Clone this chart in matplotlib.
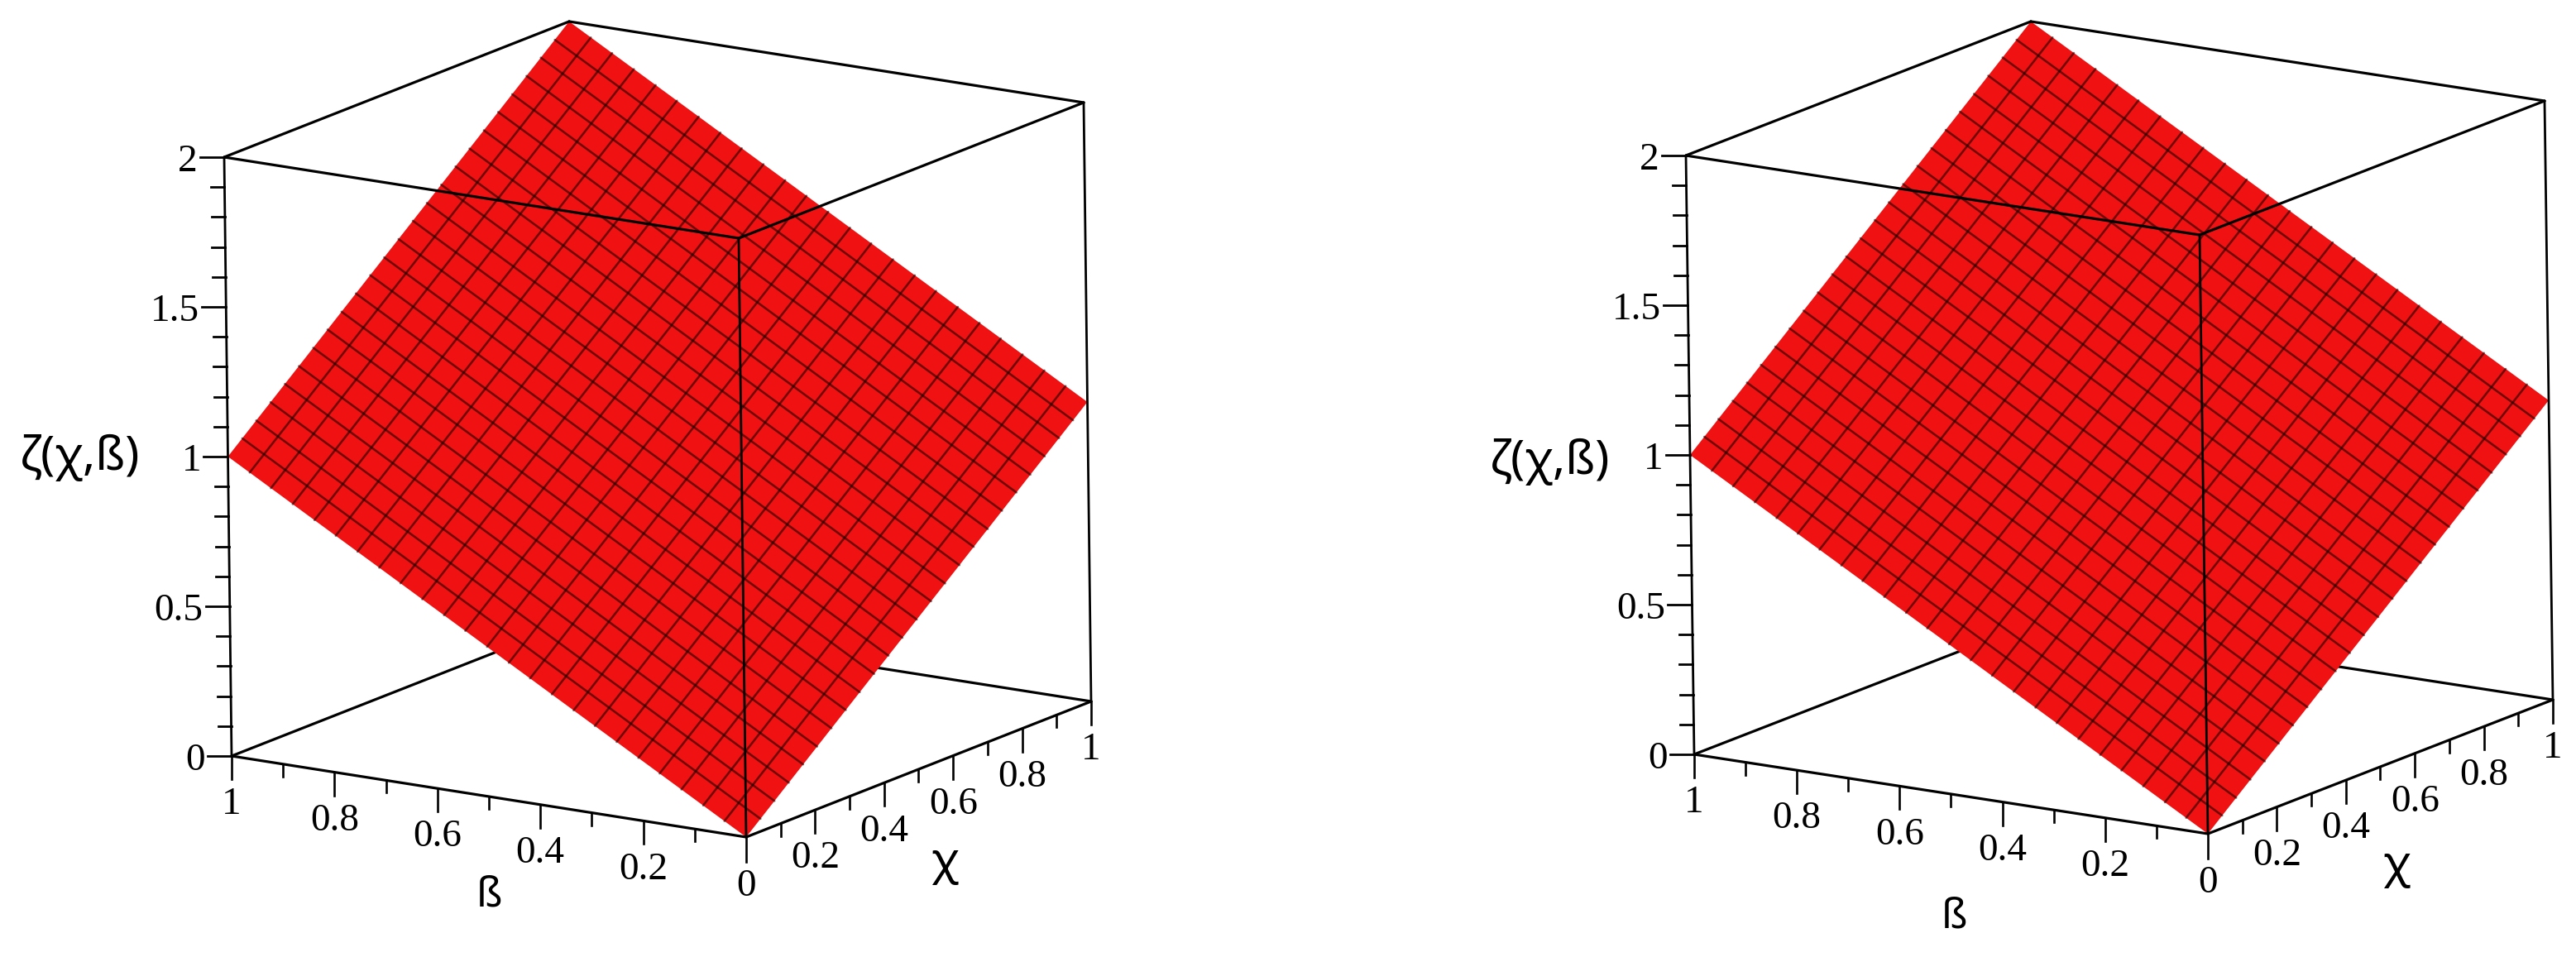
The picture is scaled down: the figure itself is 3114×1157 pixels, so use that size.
import matplotlib
matplotlib.use("Agg")
import matplotlib.pyplot as plt
from matplotlib.patches import Polygon
import numpy as np

# ---- data ----
grid_pos = [0.000, 0.042, 0.083, 0.125, 0.167, 0.208, 0.250, 0.292, 0.333, 0.375, 0.417, 0.458,
            0.500, 0.542, 0.583, 0.625, 0.667, 0.708, 0.750, 0.792, 0.833, 0.875, 0.917, 0.958, 1.000]
zeta_near = grid_pos                                  # zeta along the edge where the other variable is 0
zeta_far = [1.000, 1.042, 1.083, 1.125, 1.167, 1.208, 1.250, 1.292, 1.333, 1.375, 1.417, 1.458,
            1.500, 1.542, 1.583, 1.625, 1.667, 1.708, 1.750, 1.792, 1.833, 1.875, 1.917, 1.958, 2.000]
corner_chi = [0, 1, 1, 0]
corner_beta = [0, 0, 1, 1]
corner_zeta = [0, 1, 2, 1]

chi_ticks_major = [0.2, 0.4, 0.6, 0.8, 1.0]
chi_labels = ["0.2", "0.4", "0.6", "0.8", "1"]
beta_ticks_major = [0.2, 0.4, 0.6, 0.8, 1.0]
beta_labels = ["0.2", "0.4", "0.6", "0.8", "1"]
minor_ticks = [0.1, 0.3, 0.5, 0.7, 0.9]
zeta_ticks_major = [0, 0.5, 1, 1.5, 2]
zeta_labels = ["0", "0.5", "1", "1.5", "2"]
zeta_ticks_minor = [0.1, 0.2, 0.3, 0.4, 0.6, 0.7, 0.8, 0.9, 1.1, 1.2, 1.3, 1.4, 1.6, 1.7, 1.8, 1.9]

W, H = 3114, 1157
RED = "#f01212"
NUM_FONT = "Liberation Serif"
LAB_FONT = "Noto Sans"

# view of each panel: affine camera, in reference pixels
panels = [
    dict(o=(902, 1012), ex=(417, -164), eb=(-622, -98), ez=(-4.5, -362),
         zlab=(97, 553), blab=(592, 1082), xlab=(1142, 1043)),
    dict(o=(2669, 1008), ex=(417, -162), eb=(-621, -96), ez=(-5, -362),
         zlab=(1874, 558), blab=(2363, 1108), xlab=(2897, 1047)),
]

fig = plt.figure(figsize=(W / 100, H / 100), dpi=100, facecolor="white")
ax = fig.add_axes([0, 0, 1, 1])
ax.set_xlim(0, W)
ax.set_ylim(H, 0)
ax.axis("off")


def draw_panel(p):
    o, ex, eb, ez = (np.array(p[k], float) for k in ("o", "ex", "eb", "ez"))

    def P(chi, beta, zeta):
        return o + chi * ex + beta * eb + zeta * ez

    def seg(a, b, lw, z, color="black"):
        A, B = P(*a), P(*b)
        ax.plot([A[0], B[0]], [A[1], B[1]], color=color, lw=lw, zorder=z,
                solid_capstyle="round")

    # surface
    pts = [P(c, b, v) for c, b, v in zip(corner_chi, corner_beta, corner_zeta)]
    ax.add_patch(Polygon(pts, closed=True, facecolor=RED, edgecolor="none", zorder=2))
    grid_colour = (0.0, 0.0, 0.0, 0.52)
    for g, zn, zf in zip(grid_pos[1:-1], zeta_near[1:-1], zeta_far[1:-1]):
        seg((g, 0, zn), (g, 1, zf), 1.9, 2.5, grid_colour)
        seg((0, g, zn), (1, g, zf), 1.9, 2.5, grid_colour)

    # box
    thick, thin = 2.3, 2.0
    seg((0, 1, 0), (1, 1, 0), thick, 1)
    seg((1, 0, 0), (1, 1, 0), thick, 1)
    seg((1, 1, 0), (1, 1, 2), thin, 1)
    seg((0, 0, 0), (0, 1, 0), thick, 3)
    seg((0, 0, 0), (1, 0, 0), thick, 3)
    seg((0, 0, 2), (0, 1, 2), thick, 3)
    seg((0, 0, 2), (1, 0, 2), thick, 3)
    seg((0, 1, 2), (1, 1, 2), thick, 3)
    seg((1, 0, 2), (1, 1, 2), thick, 3)
    seg((0, 0, 0), (0, 0, 2), thin, 3)
    seg((0, 1, 0), (0, 1, 2), thin, 3)
    seg((1, 0, 0), (1, 0, 2), thin, 3)

    # ticks on the two floor axes hang straight down
    def down(q, length):
        Q = P(*q)
        ax.plot([Q[0], Q[0]], [Q[1], Q[1] + length], color="black", lw=1.9, zorder=3)

    def number(x, y, s, **kw):
        ax.text(x, y, s, family=NUM_FONT, fontsize=34, color="black",
                va="center", zorder=4, **kw)

    down((0, 0, 0), 30)
    Q0 = P(0, 0, 0)
    number(Q0[0], Q0[1] + 60, "0", ha="center")
    for t, s in zip(beta_ticks_major, beta_labels):
        down((0, t, 0), 28)
        Q = P(0, t, 0)
        number(Q[0], Q[1] + 59, s, ha="center")
    for t, s in zip(chi_ticks_major, chi_labels):
        down((t, 0, 0), 28)
        Q = P(t, 0, 0)
        number(Q[0], Q[1] + 59, s, ha="center")
    for t in minor_ticks:
        down((0, t, 0), 15)
        down((t, 0, 0), 15)

    # zeta axis ticks point to the left
    def left(v, length):
        Q = P(0, 1, v)
        ax.plot([Q[0] - length, Q[0]], [Q[1], Q[1]], color="black", lw=2.0, zorder=3)

    for v, s in zip(zeta_ticks_major, zeta_labels):
        left(v, 29)
        Q = P(0, 1, v)
        number(Q[0] - 32, Q[1] + 6, s, ha="right")
    for v in zeta_ticks_minor:
        left(v, 16)

    # axis titles
    ax.text(*p["zlab"], "ζ(χ,ß)", family=LAB_FONT, fontsize=41, ha="center", va="center", zorder=4)
    ax.text(*p["blab"], "ß", family=LAB_FONT, fontsize=36, ha="center", va="center", zorder=4)
    ax.text(*p["xlab"], "χ", family=LAB_FONT, fontsize=40, ha="center", va="center", zorder=4)


for panel in panels:
    draw_panel(panel)

fig.savefig("out.png", dpi=100, facecolor="white")
